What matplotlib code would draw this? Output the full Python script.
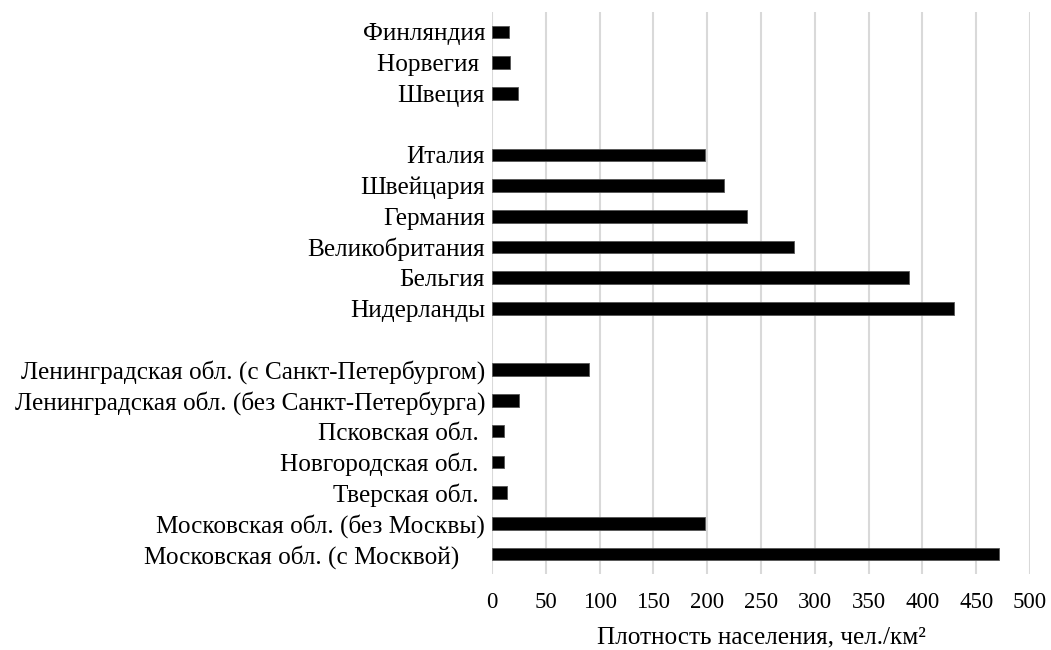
import matplotlib
matplotlib.use('Agg')
import matplotlib.pyplot as plt
import numpy as np

plt.rcParams['font.family'] = ['Liberation Serif', 'DejaVu Serif']

# categories top to bottom, '' = empty separator rows
labels = ['Финляндия', 'Норвегия ', 'Швеция', '',
          'Италия', 'Швейцария', 'Германия', 'Великобритания', 'Бельгия', 'Нидерланды', '',
          'Ленинградская обл. (с Санкт-Петербургом)', 'Ленинградская обл. (без Санкт-Петербурга)',
          'Псковская обл. ', 'Новгородская обл. ', 'Тверская обл. ',
          'Московская обл. (без Москвы)', 'Московская обл. (с Москвой)    ']
density = [16, 17, 24, None,
           198, 216, 237, 281, 388, 429, None,
           90, 25, 11, 11, 14,
           198, 471]

fig = plt.figure(figsize=(10.51, 6.5), dpi=100)
ax = fig.add_axes([492/1051, 1 - 574/650, (1030 - 492)/1051, (574 - 12)/650])

y = np.arange(len(labels))
idx = [i for i, v in enumerate(density) if v is not None]
ax.barh([y[i] for i in idx], [density[i] for i in idx], height=0.41,
        color='black', edgecolor='#555555', linewidth=0.6, zorder=3)

fs = 18.2
ax.set_yticks(y)
ax.set_yticklabels(labels, fontsize=fs)
ax.set_ylim(len(labels) - 0.35, -0.65)
ax.set_xlim(0, 500)
ax.set_xticks(np.arange(0, 501, 50))
ax.tick_params(axis='x', labelsize=16.5, length=0, pad=13)
ax.tick_params(axis='y', length=0, pad=5)
ax.grid(axis='x', color='#d9d9d9', linewidth=1.5, zorder=0)
for s in ax.spines.values():
    s.set_visible(False)

ax.set_xlabel('Плотность населения, чел./км²', fontsize=fs, labelpad=10)

fig.savefig('out.png', dpi=100)
